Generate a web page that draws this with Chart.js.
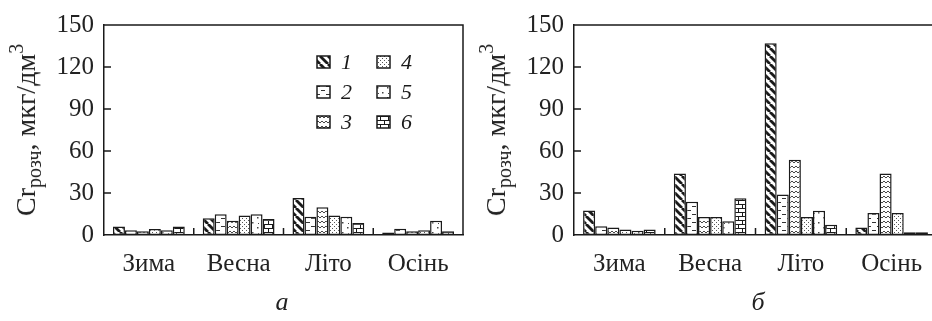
<!DOCTYPE html>
<html>
<head>
<meta charset="utf-8">
<script src="https://cdn.jsdelivr.net/npm/chart.js@4"></script>
<style>
  body { margin: 0; width: 932px; height: 321px; overflow: hidden; position: relative; background: #fff; }
  canvas { position: absolute; top: 0; }
  .ytitle {
    position: absolute; top: 130px; white-space: nowrap; line-height: 1;
    font-family: 'Liberation Serif', 'Times New Roman', serif; font-size: 28px; color: #222;
    transform: translate(-50%, -50%) rotate(-90deg);
  }
  .ytitle sub { font-size: 20px; vertical-align: -6px; }
  .ytitle sup { font-size: 20px; vertical-align: 12px; }
  .caption {
    position: absolute; top: 287px; transform: translateX(-50%);
    font-family: 'Liberation Serif', 'Times New Roman', serif; font-style: italic; font-size: 26px; color: #222;
  }
</style>
</head>
<body>
<canvas id="chartA" width="470" height="321" style="left:0"></canvas>
<canvas id="chartB" width="472" height="321" style="left:466px"></canvas>
<div class="ytitle" style="left:25px">Cr<sub>розч</sub>, мкг/дм<sup>3</sup></div>
<div class="ytitle" style="left:495px">Cr<sub>розч</sub>, мкг/дм<sup>3</sup></div>
<div class="caption" style="left:282px">а</div>
<div class="caption" style="left:758px">б</div>
<script>
const seasons = ['Зима', 'Весна', 'Літо', 'Осінь'];
const seriesNames = ['1', '2', '3', '4', '5', '6'];
const yTicks = [0, 30, 60, 90, 120, 150];

// panel а, one row per series, values per season
const panelA = [
  [6, 12, 26.5, 1.8],
  [3.4, 14.8, 13, 4.5],
  [2.7, 10.2, 19.8, 2.7],
  [4.3, 14, 14, 3.4],
  [3.4, 14.8, 13, 10.2],
  [6.1, 11.4, 8.6, 2.7]
];

// panel б
const panelB = [
  [17.5, 44, 137, 5.3],
  [6.3, 23.7, 29, 15.8],
  [5.3, 12.8, 53.7, 44],
  [4, 12.8, 12.8, 15.8],
  [3, 9.8, 17.4, 2],
  [4, 26.3, 7.4, 2]
];

const ink = '#1a1a1a';
const serif = "'Liberation Serif', 'Times New Roman', serif";

function makePattern(kind) {
  const c = document.createElement('canvas');
  const g = c.getContext('2d');
  const size = { diag: [8, 8], dash: [10, 8], wave: [8, 5], dots: [4, 4], sparse: [10, 10], brick: [8, 8] }[kind];
  c.width = size[0];
  c.height = size[1];
  g.fillStyle = '#fff';
  g.fillRect(0, 0, c.width, c.height);
  g.strokeStyle = ink;
  g.fillStyle = ink;
  if (kind === 'diag') {
    g.lineWidth = 2.8;
    [-8, 0, 8].forEach(x => {
      g.beginPath(); g.moveTo(x, 0); g.lineTo(x + 8, 8); g.stroke();
    });
  } else if (kind === 'dash') {
    g.fillStyle = '#333';
    g.fillRect(1, 2, 4, 1);
    g.fillRect(6, 6, 4, 1);
  } else if (kind === 'wave') {
    g.strokeStyle = '#333';
    g.lineWidth = 0.9;
    g.beginPath();
    g.moveTo(0, 3); g.lineTo(2, 1); g.lineTo(4, 3); g.lineTo(6, 1); g.lineTo(8, 3);
    g.stroke();
  } else if (kind === 'dots') {
    g.fillStyle = '#555';
    g.fillRect(0, 0, 1, 1);
    g.fillRect(2, 2, 1, 1);
  } else if (kind === 'sparse') {
    g.fillStyle = '#444';
    g.fillRect(2, 2, 1.5, 1.5);
    g.fillRect(7, 7, 1.5, 1.5);
    g.fillRect(8, 3, 1, 1);
  } else if (kind === 'brick') {
    g.lineWidth = 1;
    g.beginPath();
    g.moveTo(0, 0.5); g.lineTo(8, 0.5);
    g.moveTo(0, 4.5); g.lineTo(8, 4.5);
    g.moveTo(0.5, 0); g.lineTo(0.5, 4);
    g.moveTo(4.5, 4); g.lineTo(4.5, 8);
    g.stroke();
  }
  return g.createPattern(c, 'repeat');
}

const patterns = ['diag', 'dash', 'wave', 'dots', 'sparse', 'brick'].map(makePattern);

// inward ticks, category separators, top/right frame, optional legend
const framePlugin = {
  id: 'frame',
  afterDraw(chart, args, opts) {
    const ctx = chart.ctx;
    const a = chart.chartArea;
    const x = chart.scales.x;
    const y = chart.scales.y;
    ctx.save();
    ctx.strokeStyle = ink;
    ctx.lineWidth = 1.5;
    ctx.beginPath();
    ctx.moveTo(a.left, a.top); ctx.lineTo(a.right, a.top); ctx.lineTo(a.right, a.bottom);
    yTicks.slice(1, -1).forEach(v => {
      const py = y.getPixelForValue(v);
      ctx.moveTo(a.left, py); ctx.lineTo(a.left + 7, py);
    });
    for (let i = 0; i < seasons.length - 1; i++) {
      const px = (x.getPixelForValue(i) + x.getPixelForValue(i + 1)) / 2;
      ctx.moveTo(px, a.bottom); ctx.lineTo(px, a.bottom - 7);
    }
    ctx.stroke();

    if (opts.legend) {
      ctx.font = 'italic 22px ' + serif;
      ctx.textBaseline = 'middle';
      chart.data.datasets.forEach((ds, i) => {
        const col = Math.floor(i / 3);
        const row = i % 3;
        const bx = a.left + 213 + col * 60;
        const by = a.top + 37 + row * 30;
        ctx.fillStyle = ds.backgroundColor;
        ctx.fillRect(bx, by - 6, 13, 12);
        ctx.strokeRect(bx, by - 6, 13, 12);
        ctx.fillStyle = ink;
        ctx.fillText(ds.label, bx + 24, by + 1);
      });
    }
    ctx.restore();
  }
};

function makeChart(id, panel, axisWidth, rightPad, legend) {
  return new Chart(document.getElementById(id), {
    type: 'bar',
    data: {
      labels: seasons,
      datasets: panel.map((vals, i) => ({
        label: seriesNames[i],
        data: vals,
        backgroundColor: patterns[i],
        borderColor: ink,
        borderWidth: 1.5,
        borderSkipped: false,
        categoryPercentage: 0.8,
        barPercentage: 1.0
      }))
    },
    options: {
      responsive: false,
      animation: false,
      devicePixelRatio: 1,
      layout: { padding: { top: 19, right: rightPad, left: 0, bottom: 0 } },
      plugins: { legend: { display: false }, tooltip: { enabled: false }, frame: { legend: legend } },
      scales: {
        x: {
          grid: { display: false, drawTicks: false },
          border: { display: true, color: ink, width: 1.5 },
          ticks: { color: '#222', padding: 14, font: { family: serif, size: 25 } },
          afterFit: s => { s.height = 86; }
        },
        y: {
          min: 0,
          max: 150,
          afterBuildTicks: s => { s.ticks = yTicks.map(v => ({ value: v })); },
          grid: { display: false, drawTicks: false },
          border: { display: true, color: ink, width: 1.5 },
          ticks: { color: '#222', padding: 10, font: { family: serif, size: 25 } },
          afterFit: s => { s.width = axisWidth; }
        }
      }
    },
    plugins: [framePlugin]
  });
}

makeChart('chartA', panelA, 104, 7, true);
makeChart('chartB', panelB, 108, 1, false);
</script>
</body>
</html>
